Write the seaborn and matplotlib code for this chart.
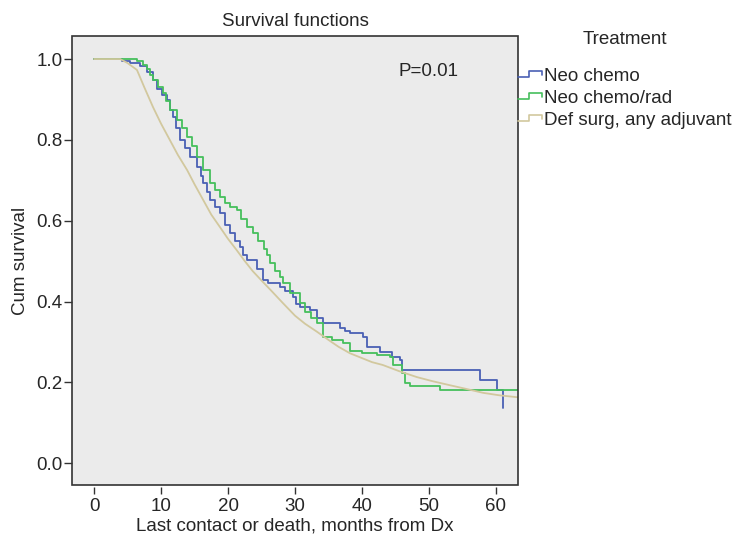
import numpy as np
import pandas as pd
import matplotlib
matplotlib.use("Agg")
import matplotlib.pyplot as plt
from matplotlib.patches import Rectangle
from matplotlib.lines import Line2D
from matplotlib.legend_handler import HandlerBase
import seaborn as sns


GROUPS = ["Neo chemo", "Neo chemo/rad", "Def surg, any adjuvant"]
COLORS = ["#4a60b4", "#45bf5c", "#d2c89e"]

# Kaplan-Meier step points (months, cum survival)
neo_chemo_t = [0, 4.1, 5.4, 6.9, 7.9, 8.8, 9.4, 10.1, 10.9, 11.4, 11.8, 12.3, 12.8,
               13.5, 14.3, 15.4, 15.9, 16.3, 16.8, 17.3, 18.0, 18.8, 19.5, 20.3,
               21.0, 21.8, 22.3, 22.8, 24.3, 25.2, 26.0, 27.8, 28.5, 29.7, 30.2,
               30.7, 32.2, 33.3, 34.2, 36.7, 37.5, 38.2, 40.1, 40.7, 42.7, 44.5,
               45.7, 46.0, 57.6, 60.1, 61.1]
neo_chemo_s = [1.0, 0.995, 0.99, 0.982, 0.968, 0.948, 0.925, 0.91, 0.899, 0.875, 0.856,
               0.83, 0.80, 0.78, 0.757, 0.733, 0.71, 0.693, 0.67, 0.651, 0.635, 0.619,
               0.59, 0.569, 0.55, 0.535, 0.515, 0.502, 0.48, 0.453, 0.445, 0.436,
               0.425, 0.411, 0.395, 0.386, 0.379, 0.359, 0.347, 0.334, 0.327, 0.322,
               0.312, 0.287, 0.275, 0.262, 0.255, 0.23, 0.205, 0.181, 0.136]

neo_chemorad_t = [0, 6.4, 7.3, 7.9, 8.4, 8.8, 9.5, 10.3, 10.8, 11.3, 12.4, 13.1, 13.9,
                  14.6, 15.4, 16.3, 17.3, 18.0, 18.8, 19.5, 20.3, 21.3, 22.0, 22.8,
                  23.7, 24.5, 25.3, 25.8, 26.3, 27.0, 27.8, 28.2, 29.3, 30.7, 31.5,
                  32.4, 33.3, 34.2, 35.5, 37.2, 38.2, 40.0, 42.2, 44.2, 44.6, 46.0,
                  46.4, 47.2, 51.6, 63.3]
neo_chemorad_s = [1.0, 0.995, 0.985, 0.975, 0.96, 0.948, 0.93, 0.916, 0.895, 0.874,
                  0.849, 0.83, 0.807, 0.785, 0.757, 0.725, 0.693, 0.675, 0.658, 0.645,
                  0.635, 0.626, 0.605, 0.585, 0.569, 0.55, 0.53, 0.515, 0.495, 0.475,
                  0.46, 0.446, 0.42, 0.396, 0.375, 0.36, 0.347, 0.312, 0.305, 0.297,
                  0.277, 0.272, 0.267, 0.262, 0.243, 0.223, 0.198, 0.19, 0.181, 0.181]

def_surg_t = [0, 3.9, 5.0, 6.4, 7.5, 8.8, 10.0, 11.3, 12.5, 13.9, 15.0, 16.3, 17.5,
              18.8, 20.0, 21.3, 22.5, 23.7, 25.0, 26.5, 28.2, 30.0, 31.5, 33.3, 35.0,
              36.5, 38.2, 40.0, 41.5, 43.1, 45.5, 48.2, 50.5, 53.1, 55.5, 58.1, 60.5,
              63.3]
def_surg_s = [1.0, 1.0, 0.99, 0.973, 0.93, 0.881, 0.84, 0.80, 0.763, 0.725, 0.69,
              0.651, 0.615, 0.584, 0.555, 0.527, 0.50, 0.475, 0.452, 0.426, 0.396,
              0.365, 0.345, 0.325, 0.305, 0.288, 0.272, 0.26, 0.25, 0.243, 0.228,
              0.213, 0.203, 0.193, 0.184, 0.174, 0.168, 0.163]


class StepHandler(HandlerBase):
    def create_artists(self, legend, orig_handle, xdescent, ydescent,
                       width, height, fontsize, trans):
        lo, hi = 0.3 * height, 0.75 * height
        xs = np.array([0, 0.45, 0.45, 1.0, 1.0]) * width - xdescent
        ys = np.array([lo, lo, hi, hi, 0.45 * height]) - ydescent
        ln = Line2D(xs, ys, color=orig_handle.get_color(), lw=1.2, transform=trans)
        return [ln]


def main():
    sns.set_style("white")
    plt.rcParams["font.family"] = ["Liberation Sans", "DejaVu Sans"]
    fs = 13.5
    plt.rcParams["font.size"] = fs

    series = [(neo_chemo_t, neo_chemo_s), (neo_chemorad_t, neo_chemorad_s),
              (def_surg_t, def_surg_s)]

    fig = plt.figure(figsize=(7.34, 5.38), dpi=100)
    ax = fig.add_axes([72 / 734, 1 - 485 / 538, 446 / 734, 449 / 538])
    ax.set_facecolor("#ebebeb")

    handles = []
    for name, color, (t, s) in zip(GROUPS, COLORS, series):
        df = pd.DataFrame({"month": t, "surv": s})
        style = "default" if name.startswith("Def") else "steps-post"
        sns.lineplot(x="month", y="surv", data=df, ax=ax, color=color, lw=1.3,
                     drawstyle=style, estimator=None, sort=False)
        handles.append(Line2D([], [], color=color))

    ax.set_xlim(-3.3, 63.3)
    ax.set_ylim(-0.054, 1.057)
    ax.set_xticks(np.arange(0, 61, 10))
    ax.set_yticks(np.arange(0, 1.01, 0.2))
    ax.set_yticklabels([f"{v:.1f}" for v in np.arange(0, 1.01, 0.2)])

    for sp in ax.spines.values():
        sp.set_visible(False)
    ax.spines["bottom"].set_position(("outward", 1.5))
    ax.add_patch(Rectangle((0, 0), 1, 1, transform=ax.transAxes, fill=False,
                           edgecolor="#333333", lw=1.2, zorder=5, clip_on=False))
    ax.tick_params(axis="both", direction="out", width=1, color="#333333",
                   labelsize=fs, bottom=True, left=True)
    ax.tick_params(axis="y", length=6, pad=1)
    ax.tick_params(axis="x", length=5, pad=3)

    ax.set_xlabel("Last contact or death, months from Dx", fontsize=fs, labelpad=2)
    ax.set_ylabel("Cum survival", fontsize=fs, labelpad=5)
    ax.set_title("Survival functions", fontsize=fs, pad=7)
    ax.text(50, 0.968, "P=0.01", ha="center", va="center", fontsize=fs)

    fig.legend(handles, GROUPS, title="Treatment", loc="upper left",
               bbox_to_anchor=(518 / 734, 1 - 31 / 538), frameon=False,
               handler_map={Line2D: StepHandler()}, handlelength=1.3,
               handletextpad=0.1, labelspacing=0.28, borderpad=0,
               borderaxespad=0, fontsize=fs, title_fontsize=fs)
    fig.legends[0]._legend_box.sep = 14

    fig.savefig("out.png", dpi=100)
    plt.close(fig)


if __name__ == "__main__":
    main()
